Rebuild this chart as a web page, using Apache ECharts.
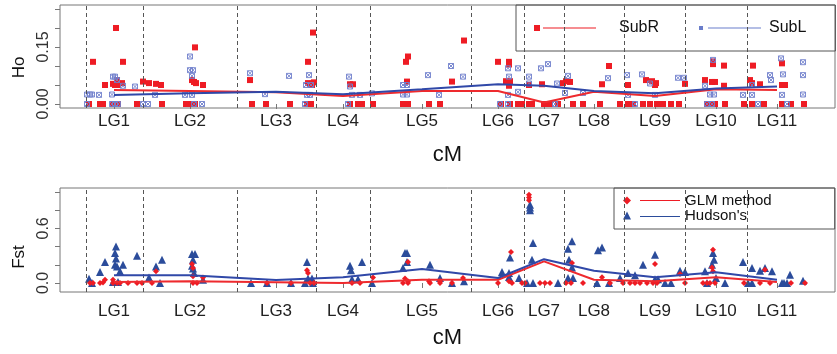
<!DOCTYPE html>
<html>
<head>
<meta charset="utf-8">
<script src="https://cdn.jsdelivr.net/npm/echarts@6/dist/echarts.min.js"></script>
<style>
html, body { margin: 0; padding: 0; background: #fff; }
#chart { width: 837px; height: 354px; }
</style>
</head>
<body>
<div id="chart"></div>
<script>
const lgNames = ['LG1', 'LG2', 'LG3', 'LG4', 'LG5', 'LG6', 'LG7', 'LG8', 'LG9', 'LG10', 'LG11'];
const lgPos = [54, 130, 216, 283, 362, 438, 484, 534, 595, 656, 717];
const lgBounds = [26, 83, 177, 256, 310, 411, 464, 504, 564, 625, 687];

const hoTicks = [0, 0.05, 0.1, 0.15, 0.2, 0.25];
const hoLabels = [0, 0.15];
const fstTicks = [0, 0.2, 0.4, 0.6, 0.8, 1.0];
const fstLabels = [0, 0.6];

// mean per linkage group
const subRMean = [0.037, 0.034, 0.031, 0.021, 0.034, 0.034, 0.004, 0.032, 0.021, 0.039, 0.037];
const subLMean = [0.024, 0.028, 0.032, 0.026, 0.039, 0.052, 0.048, 0.034, 0.028, 0.041, 0.046];
const glmMean = [0.011, 0.018, 0.008, 0.0, 0.036, 0.036, 0.237, 0.036, 0.018, 0.062, 0.011];
const hudsonMean = [0.084, 0.084, 0.032, 0.062, 0.153, 0.055, 0.262, 0.134, 0.062, 0.117, 0.036];

// Ho per marker [cM, Ho]
const subR = [
  [33, 0.111], [56, 0.200], [63, 0.111], [53, 0.053], [57, 0.063], [55, 0.050], [58, 0.050], [45, 0.050], [62, 0.055],
  [29, 0], [40, 0], [43, 0], [53, 0], [58, 0], [77, 0],
  [83, 0.059], [89, 0.055], [96, 0.053], [101, 0.050], [135, 0.149], [132, 0.063], [134, 0.058], [136, 0.055], [143, 0.050],
  [102, 0], [126, 0], [132, 0], [135, 0],
  [190, 0.063], [192, 0], [206, 0], [230, 0], [248, 0.111], [253, 0.188], [248, 0.055], [252, 0.050], [250, 0.053], [254, 0.057],
  [247, 0], [251, 0],
  [290, 0.052], [293, 0.052], [290, 0], [298, 0], [302, 0], [313, 0],
  [348, 0.125], [346, 0.111], [347, 0.059], [343, 0], [348, 0], [369, 0], [380, 0], [404, 0.167], [392, 0.059],
  [438, 0.111], [449, 0.111], [449, 0.104], [446, 0.060], [450, 0.060], [449, 0.048],
  [441, 0], [450, 0], [458, 0], [462, 0], [469, 0], [472, 0],
  [469, 0.050], [482, 0.052], [484, 0], [490, 0], [498, 0], [513, 0], [523, 0], [503, 0.055], [506, 0.060], [510, 0.058],
  [549, 0.100], [542, 0.052], [568, 0.050], [586, 0.063], [540, 0], [560, 0], [568, 0], [573, 0], [583, 0],
  [592, 0.060], [595, 0.050], [596, 0.055], [625, 0.053], [590, 0], [597, 0], [603, 0], [611, 0], [619, 0],
  [653, 0.105], [653, 0.112], [664, 0.101], [645, 0.063], [652, 0.058], [655, 0.058], [664, 0.048],
  [647, 0], [652, 0], [655, 0], [665, 0],
  [693, 0.101], [690, 0.063], [692, 0.055], [700, 0.052], [722, 0.107], [722, 0.050], [725, 0.050],
  [684, 0], [692, 0], [704, 0], [722, 0], [731, 0], [744, 0]
];
const subL = [
  [27, 0.025], [30, 0.025], [32, 0.025], [39, 0.024], [52, 0.025], [55, 0.072], [53, 0.072], [63, 0.048], [75, 0.046], [57, 0.063],
  [27, 0], [52, 0], [55, 0], [58, 0],
  [83, 0], [88, 0], [95, 0.024], [130, 0.125], [130, 0.089], [133, 0.089], [132, 0.074], [125, 0.024], [132, 0.024], [142, 0], [134, 0],
  [190, 0.081], [205, 0.026], [229, 0.074], [249, 0.076], [246, 0.050], [251, 0.050], [247, 0.024], [250, 0.024], [245, 0],
  [289, 0.072], [290, 0.046], [292, 0.024], [300, 0.024], [312, 0.028], [288, 0],
  [343, 0.050], [347, 0.050], [343, 0.025], [347, 0.025], [368, 0.076], [379, 0.024], [391, 0.100], [403, 0.072],
  [448, 0.094], [449, 0.072], [458, 0.094], [458, 0.032], [448, 0.024], [440, 0], [448, 0], [469, 0.072], [469, 0.054], [481, 0.094], [488, 0.105],
  [497, 0.054], [508, 0.074], [505, 0.029], [523, 0.029], [495, 0],
  [548, 0.068], [567, 0.076], [568, 0.024], [582, 0.078], [590, 0.054], [595, 0.024], [618, 0.069], [624, 0.069], [575, 0],
  [653, 0.116], [645, 0.048], [650, 0.025], [654, 0.025], [647, 0], [652, 0], [683, 0.024], [692, 0.050], [692, 0.024], [698, 0],
  [710, 0.076], [711, 0.063], [721, 0.120], [723, 0.078], [722, 0.024], [727, 0], [743, 0.110], [743, 0.076], [743, 0.025]
];

// Fst per marker [cM, Fst]
const glm = [
  [30, 0], [33, 0], [40, 0], [43, 0.005], [45, 0.036], [53, 0.036], [53, 0], [57, 0], [60, 0], [68, 0], [77, 0], [82, 0],
  [92, 0], [96, 0.128], [132, 0.21], [133, 0.164], [133, 0.073], [133, 0], [137, 0], [143, 0.06],
  [207, 0], [231, 0], [247, 0.14], [248, 0.11], [250, 0], [254, 0],
  [292, 0], [300, 0], [313, 0.06],
  [348, 0.23], [345, 0.05], [348, 0.02], [343, 0], [348, 0], [369, 0.02], [370, 0], [380, 0.02], [380, 0], [392, 0], [403, 0.055],
  [438, 0], [451, 0.34], [449, 0.02], [452, 0], [462, 0], [465, 0],
  [469, 0.97], [469, 0.94], [469, 0.91], [480, 0], [485, 0], [490, 0], [506, 0], [511, 0], [512, 0.22], [523, 0],
  [542, 0.062], [550, 0], [563, 0], [570, 0], [575, 0], [580, 0], [587, 0],
  [595, 0.21], [593, 0], [597, 0], [620, 0.1], [625, 0],
  [643, 0], [647, 0], [650, 0], [653, 0.364], [652, 0.17], [653, 0.128], [655, 0],
  [684, 0], [700, 0], [705, 0.146], [710, 0], [731, 0], [745, 0]
];
const hudson = [
  [29, 0.047], [32, 0], [40, 0.12], [45, 0.23], [56, 0.40], [55, 0.33], [56, 0.27], [55, 0.2], [57, 0.18], [60, 0.13], [63, 0.2],
  [77, 0.3], [53, 0.01], [58, 0.01],
  [89, 0.06], [96, 0.18], [102, 0.255], [100, 0], [132, 0.32], [135, 0.32], [133, 0.255], [132, 0.19], [133, 0.16], [134, 0.11],
  [143, 0.036], [191, 0],
  [207, 0], [231, 0], [247, 0.23], [248, 0.05], [252, 0.05], [245, 0], [253, 0],
  [290, 0.19], [291, 0.14], [302, 0.23], [292, 0.04], [298, 0.04], [312, 0],
  [345, 0.33], [347, 0.33], [347, 0.23], [343, 0.164], [370, 0.2], [380, 0.055], [392, 0], [404, 0.02],
  [442, 0.12], [449, 0.11], [449, 0.065], [450, 0.28], [459, 0.055],
  [470, 0.86], [470, 0.83], [470, 0.80], [473, 0.44], [472, 0.255], [467, 0], [473, 0], [498, 0],
  [508, 0.375], [512, 0.46], [509, 0.255], [512, 0.17], [508, 0.055], [513, 0.055],
  [538, 0.36], [542, 0.39], [537, 0], [549, 0], [560, 0.055], [568, 0.11], [575, 0.084], [583, 0.2],
  [595, 0.31], [595, 0.04], [598, 0.04], [605, 0], [611, 0], [620, 0.134], [625, 0.12],
  [645, 0.128], [647, 0], [653, 0.33], [654, 0.255], [652, 0.2], [656, 0.055], [665, 0],
  [683, 0.23], [688, 0], [692, 0], [692, 0.164], [700, 0.134], [705, 0.164], [712, 0.128],
  [722, 0], [724, 0], [727, 0], [730, 0.09], [743, 0.025]
];

const fontFamily = 'Liberation Sans, Arial, sans-serif';

function xAxisFor(gridIndex, labelMargin, nameGap) {
    return {
        type: 'value',
        gridIndex: gridIndex,
        min: 0,
        max: 775,
        name: 'cM',
        nameLocation: 'middle',
        nameGap: nameGap,
        nameTextStyle: {fontSize: 22, color: '#111', fontFamily: fontFamily},
        axisLine: {show: false},
        splitLine: {show: false},
        axisTick: {show: true, length: 5, customValues: lgPos, lineStyle: {color: '#777'}},
        axisLabel: {
            customValues: lgPos,
            margin: labelMargin,
            fontSize: 17,
            color: '#222',
            fontFamily: fontFamily,
            formatter: function (v) { return lgNames[lgPos.indexOf(v)]; }
        }
    };
}

function yAxisFor(gridIndex, name, min, max, ticks, labels, digits, namePad) {
    return {
        type: 'value',
        gridIndex: gridIndex,
        min: min,
        max: max,
        name: name,
        nameLocation: 'middle',
        nameGap: 32,
        nameTextStyle: {fontSize: 17, color: '#111', fontFamily: fontFamily, padding: [0, namePad, 0, 0]},
        axisLine: {show: false},
        splitLine: {show: false},
        axisTick: {show: true, length: 5, customValues: ticks, lineStyle: {color: '#777'}},
        axisLabel: {
            customValues: labels,
            rotate: 90,
            margin: 8,
            fontSize: 16,
            color: '#333',
            fontFamily: fontFamily,
            formatter: function (v) { return v.toFixed(digits); }
        }
    };
}

function meanLine(name, values, color, idx) {
    return {
        name: name,
        type: 'line',
        xAxisIndex: idx,
        yAxisIndex: idx,
        data: lgPos.map(function (x, i) { return [x, values[i]]; }),
        symbol: 'none',
        z: 6,
        silent: true,
        lineStyle: {color: color, width: 2},
        itemStyle: {color: color}
    };
}

function boundaries() {
    return {
        silent: true,
        symbol: 'none',
        label: {show: false},
        lineStyle: {type: [4, 3], color: '#555', width: 1},
        data: lgBounds.map(function (x) { return {xAxis: x}; })
    };
}

let chart = echarts.init(document.getElementById('chart'));

let subRFit = meanLine('SubR mean', subRMean, '#ee2a2e', 0);
subRFit.markLine = boundaries();
let glmFit = meanLine('GLM mean', glmMean, '#ee2a2e', 1);
glmFit.markLine = boundaries();

chart.setOption({
    animation: false,
    textStyle: {fontFamily: fontFamily},
    grid: [
        {left: 60, width: 775, top: 5, height: 103, show: true, borderColor: '#777', borderWidth: 1},
        {left: 60, width: 775, top: 188, height: 104, show: true, borderColor: '#777', borderWidth: 1}
    ],
    legend: [
        {
            left: 516,
            top: 5,
            orient: 'horizontal',
            padding: [15, 29, 15, 18],
            itemGap: 40,
            itemWidth: 62,
            itemHeight: 12,
            borderColor: '#555',
            borderWidth: 1,
            selectedMode: false,
            textStyle: {fontSize: 16, color: '#111', fontFamily: fontFamily},
            data: [
                {name: 'SubR', icon: 'path://M0,0H6V6H0Z M9,2.5H62V3.5H9Z', itemStyle: {color: '#ee1c24', borderWidth: 0}, textStyle: {padding: [0, 0, 0, 18]}},
                {name: 'SubL', icon: 'path://M0,1H4V5H0Z M9,2.5H62V3.5H9Z', itemStyle: {color: '#5a6fc4', borderWidth: 0}, textStyle: {padding: [0, 0, 0, 3]}}
            ]
        },
        {
            left: 614,
            top: 188,
            orient: 'vertical',
            padding: [5, 63, 6, 9],
            itemGap: 0,
            itemWidth: 57,
            itemHeight: 10,
            borderColor: '#555',
            borderWidth: 1,
            selectedMode: false,
            textStyle: {fontSize: 15, lineHeight: 14, color: '#111', fontFamily: fontFamily},
            data: [
                {name: 'GLM method', icon: 'path://M4,0L8,4L4,8L0,4Z M17,3.5H57V4.5H17Z', itemStyle: {color: '#ee1c24', borderWidth: 0}},
                {name: "Hudson's", icon: 'path://M4,0L8,8L0,8Z M17,4.5H57V5.5H17Z', itemStyle: {color: '#2b4c9b', borderWidth: 0}}
            ]
        }
    ],
    xAxis: [xAxisFor(0, 5, 36), xAxisFor(1, 11, 35)],
    yAxis: [
        yAxisFor(0, 'Ho', -0.0105, 0.2605, hoTicks, hoLabels, 2, 22),
        yAxisFor(1, 'Fst', -0.099, 1.044, fstTicks, fstLabels, 1, 34)
    ],
    series: [
        {
            name: 'SubR',
            type: 'scatter',
            xAxisIndex: 0,
            yAxisIndex: 0,
            data: subR,
            symbol: 'rect',
            symbolSize: 6,
            z: 2,
            itemStyle: {color: '#ee1c24', opacity: 1}
        },
        {
            name: 'SubL',
            type: 'scatter',
            xAxisIndex: 0,
            yAxisIndex: 0,
            data: subL,
            symbol: 'path://M0,0H10V10H0Z M0,0L10,10 M10,0L0,10',
            symbolSize: 5,
            z: 3,
            itemStyle: {color: 'none', borderColor: '#7080cc', borderWidth: 1, opacity: 0.9}
        },
        subRFit,
        meanLine('SubL mean', subLMean, '#3048a8', 0),
        {
            name: "Hudson's",
            type: 'scatter',
            xAxisIndex: 1,
            yAxisIndex: 1,
            data: hudson,
            symbol: 'triangle',
            symbolSize: 8,
            z: 2,
            itemStyle: {color: '#2b4c9b', opacity: 1}
        },
        {
            name: 'GLM method',
            type: 'scatter',
            xAxisIndex: 1,
            yAxisIndex: 1,
            data: glm,
            symbol: 'diamond',
            symbolSize: 6,
            z: 3,
            itemStyle: {color: '#ee1c24', opacity: 1}
        },
        glmFit,
        meanLine('Hudson mean', hudsonMean, '#3048a8', 1)
    ]
});
</script>
</body>
</html>
